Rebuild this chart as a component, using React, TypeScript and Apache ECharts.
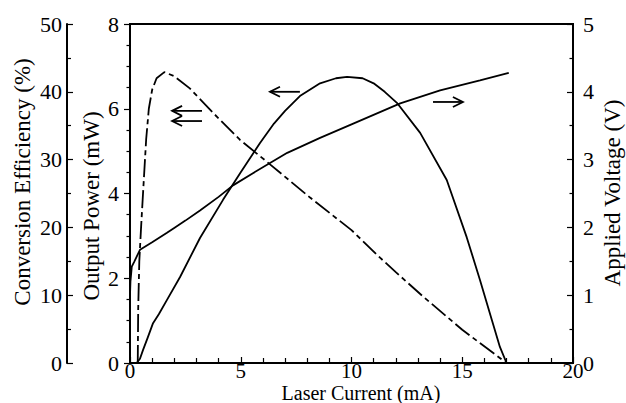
import React, { useEffect, useRef } from "react";
import * as echarts from "echarts";

// Laser current (mA) vs output power (mW)
const powerCurrent = [0, 0.3, 0.45, 0.59, 0.8, 1.04, 1.3, 1.67, 2.26, 3.16, 4.2, 5.0, 5.87, 6.5, 7.0, 7.67, 8.58, 9.3, 9.8, 10.5, 11.0, 11.5, 12.05, 13.1, 14.3, 15.2, 15.8, 16.34, 16.7, 17.0];
const powerValues = [0, 0, 0.1, 0.31, 0.6, 0.94, 1.15, 1.49, 2.03, 2.95, 3.85, 4.5, 5.19, 5.65, 5.95, 6.3, 6.6, 6.72, 6.75, 6.72, 6.6, 6.4, 6.14, 5.43, 4.32, 2.97, 1.96, 1.01, 0.38, 0];

// Laser current (mA) vs applied voltage (V)
const voltageCurrent = [0.0, 0.02, 0.08, 0.2, 0.45, 1.0, 1.67, 2.03, 2.5, 3.16, 4.0, 4.65, 5.55, 7.1, 8.58, 10.0, 12.2, 14.0, 15.8, 17.1];
const voltageValues = [1.0, 1.2, 1.42, 1.5, 1.67, 1.78, 1.92, 2.0, 2.1, 2.25, 2.45, 2.62, 2.8, 3.1, 3.32, 3.52, 3.83, 4.02, 4.17, 4.28];

// Laser current (mA) vs conversion efficiency (%)
const effCurrent = [0.35, 0.37, 0.42, 0.5, 0.57, 0.65, 0.73, 0.85, 1.0, 1.2, 1.55, 2.0, 2.7, 3.75, 4.97, 6.32, 8.13, 10.0, 11.3, 12.0, 13.2, 15.0, 17.0];
const effValues = [0, 8, 15, 20, 24, 28.5, 33, 37.5, 40.3, 42, 42.9, 42.3, 40.5, 36.9, 32.9, 29.3, 24.4, 19.6, 15.5, 13.4, 9.9, 4.9, 0];

// Annotation arrows in data coordinates (x in mA, y in mW)
const arrowX1 = [1.9, 1.9, 6.32, 13.68];
const arrowX2 = [3.25, 3.25, 7.67, 15.03];
const arrowY = [5.95, 5.71, 6.4, 6.16];
const arrowDir = ["left", "left", "left", "right"];

const FONT = "'Liberation Serif', 'Times New Roman', serif";

export default function App() {
  const ref = useRef<HTMLDivElement>(null);
  useEffect(() => {
    if (!ref.current) return;
    const chart = echarts.init(ref.current, null, { renderer: "svg" });
    const zip = (xs: number[], ys: number[]) => xs.map((x, i) => [x, ys[i]]);
    const lineStyleBase = { color: "#000", width: 1.8 };
    const labelStyle = { color: "#000", fontFamily: FONT, fontSize: 22 };
    chart.setOption({
      animation: false,
      backgroundColor: "#fff",
      grid: { left: 130, right: 53, top: 24, bottom: 40, show: true, borderColor: "#000", borderWidth: 2, backgroundColor: "transparent" },
      xAxis: {
        type: "value",
        min: 0,
        max: 20,
        interval: 5,
        axisLine: { show: true, onZero: false, lineStyle: { color: "#000", width: 2 } },
        axisTick: { show: true, inside: true, length: 6, lineStyle: { color: "#000", width: 1.2 } },
        minorTick: { show: true, splitNumber: 5, length: 5, lineStyle: { color: "#000", width: 1.2 } },
        axisLabel: { ...labelStyle, fontSize: 21, margin: -3, lineHeight: 21 },
        splitLine: { show: false },
      },
      yAxis: [
        {
          type: "value",
          position: "left",
          min: 0,
          max: 8,
          interval: 2,
          axisLine: { show: true, onZero: false, lineStyle: { color: "#000", width: 2 } },
          axisTick: { show: true, inside: false, length: 6, lineStyle: { color: "#000", width: 1.2 } },
          minorTick: { show: true, splitNumber: 4, length: 3.5, lineStyle: { color: "#000", width: 1.2 } },
          axisLabel: { ...labelStyle, margin: 11 },
          splitLine: { show: false },
        },
        {
          type: "value",
          position: "left",
          offset: 63,
          min: 0,
          max: 50,
          interval: 10,
          axisLine: { show: true, onZero: false, lineStyle: { color: "#000", width: 2 } },
          axisTick: { show: true, inside: true, length: 6, lineStyle: { color: "#000", width: 1.2 } },
          minorTick: { show: true, splitNumber: 2, length: 4, lineStyle: { color: "#000", width: 1.2 } },
          axisLabel: { ...labelStyle, margin: 5 },
          splitLine: { show: false },
        },
        {
          type: "value",
          position: "right",
          min: 0,
          max: 5,
          interval: 1,
          axisLine: { show: true, onZero: false, lineStyle: { color: "#000", width: 2 } },
          axisTick: { show: true, inside: true, length: 6, lineStyle: { color: "#000", width: 1.2 } },
          minorTick: { show: true, splitNumber: 2, length: 3.5, lineStyle: { color: "#000", width: 1.2 } },
          axisLabel: { ...labelStyle, margin: 10 },
          splitLine: { show: false },
        },
      ],
      series: [
        {
          name: "Output Power",
          type: "line",
          yAxisIndex: 0,
          showSymbol: false,
          data: zip(powerCurrent, powerValues),
          lineStyle: { ...lineStyleBase },
        },
        {
          name: "Conversion Efficiency",
          type: "line",
          yAxisIndex: 1,
          showSymbol: false,
          data: zip(effCurrent, effValues),
          lineStyle: { ...lineStyleBase, type: [18, 4, 5, 4] },
        },
        {
          name: "Applied Voltage",
          type: "line",
          yAxisIndex: 2,
          showSymbol: false,
          data: zip(voltageCurrent, voltageValues),
          lineStyle: { ...lineStyleBase },
        },
      ],
    });

    const titleStyle = { fill: "#000", font: `23px ${FONT}`, textAlign: "center", textVerticalAlign: "middle" };
    const graphics: any[] = [
      { type: "text", x: 22, y: 182, rotation: Math.PI / 2, style: { ...titleStyle, text: "Conversion Efficiency (%)" } },
      { type: "text", x: 91, y: 206, rotation: Math.PI / 2, style: { ...titleStyle, text: "Output Power (mW)" } },
      { type: "text", x: 612, y: 193, rotation: Math.PI / 2, style: { ...titleStyle, text: "Applied Voltage (V)" } },
      { type: "text", x: 361, y: 392.6, style: { ...titleStyle, font: `20px ${FONT}`, lineHeight: 20, text: "Laser Current (mA)" } },
    ];
    arrowX1.forEach((x1, i) => {
      const p1 = chart.convertToPixel({ xAxisIndex: 0, yAxisIndex: 0 }, [x1, arrowY[i]]) as number[];
      const p2 = chart.convertToPixel({ xAxisIndex: 0, yAxisIndex: 0 }, [arrowX2[i], arrowY[i]]) as number[];
      const y = p1[1];
      graphics.push({ type: "line", shape: { x1: p1[0], y1: y, x2: p2[0], y2: y }, style: { stroke: "#000", lineWidth: 1.8 } });
      const tipX = arrowDir[i] === "left" ? p1[0] : p2[0];
      const back = arrowDir[i] === "left" ? 10 : -10;
      graphics.push({
        type: "polyline",
        shape: { points: [[tipX + back, y - 5], [tipX, y], [tipX + back, y + 5]] },
        style: { stroke: "#000", lineWidth: 1.8, fill: "none" },
      });
    });
    chart.setOption({ graphic: graphics });
    return () => chart.dispose();
  }, []);
  return <div ref={ref} style={{ width: 626, height: 403, position: "absolute", left: 0, top: 0, background: "#fff" }} />;
}
